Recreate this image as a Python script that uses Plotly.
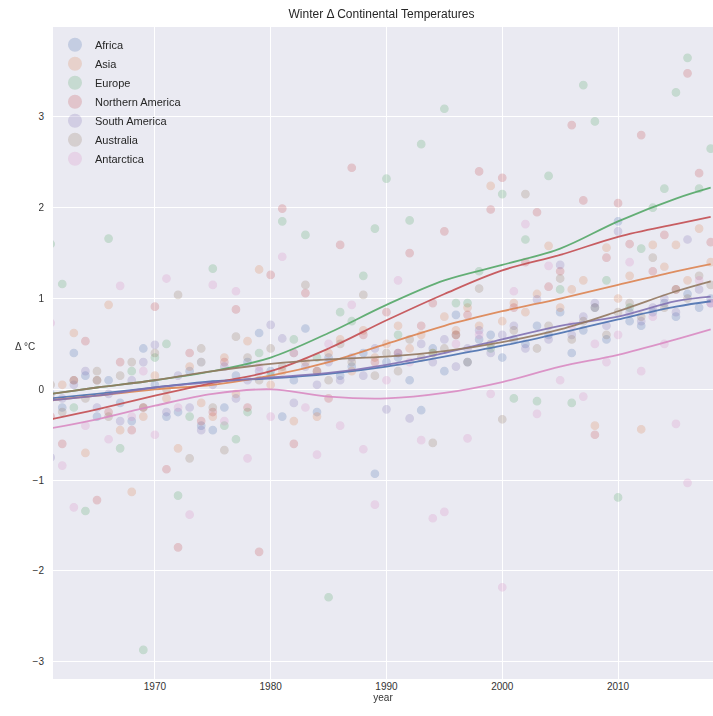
import plotly.graph_objects as go

years = list(range(1961, 2019))

africa = [-0.05, -0.20, 0.40, 0.15, -0.30, 0.10, -0.15, -0.35, 0.45, 0.05,
          -0.30, -0.25, 0.20, -0.40, -0.45, -0.20, 0.15, 0.30, 0.62, 0.20,
          -0.30, 0.10, 0.67, -0.25, 0.35, 0.15, 0.25, 0.40, -0.93, 0.30,
          0.35, 0.10, -0.23, 0.45, 0.20, 0.82, 0.30, 0.55, 0.60, 0.35,
          0.55, 0.50, 0.70, 0.60, 0.85, 0.40, 0.65, 0.90, 0.55, 1.85,
          0.75, 0.70, 0.85, 0.95, 0.80, 1.05, 0.90, 1.00]
asia = [-0.10, 0.05, 0.62, -0.70, 0.10, 0.93, -0.45, -1.13, -0.30, 0.15,
        -0.10, -0.65, 0.25, -0.15, -0.30, 0.35, -0.05, 0.53, 1.32, 0.05,
        0.20, -0.35, 0.30, -0.30, 0.40, 0.55, 0.20, 0.65, 0.35, 0.50,
        0.70, 0.45, 0.60, 0.40, 0.80, 0.65, 0.90, 0.70, 2.24, 0.75,
        0.95, 0.85, 1.05, 1.58, 0.90, 1.10, 1.20, -0.40, 1.56, 1.00,
        1.25, -0.44, 1.59, 1.35, 1.59, 1.20, 1.77, 1.40]
europe = [1.60, 1.16, -0.20, -1.34, 0.10, 1.66, -0.65, 0.20, -2.87, 0.35,
          0.50, -1.17, -0.30, 0.30, 1.33, -0.40, -0.55, -0.25, 0.40, 0.15,
          1.85, 0.55, 1.70, 0.35, -2.29, 0.85, 0.75, 1.25, 1.77, 2.32,
          0.60, 1.86, 2.70, 0.40, 3.09, 0.95, 0.95, 1.30, 0.45, 2.15,
          -0.10, 1.65, -0.13, 2.35, 1.10, -0.15, 3.35, 2.95, 1.20, -1.19,
          0.90, 1.55, 2.00, 2.21, 3.27, 3.65, 2.21, 2.65]
n_america = [-0.30, -0.60, 0.10, 0.53, -1.22, -0.25, 0.30, -0.45, -0.20, 0.91,
             -0.88, -1.74, 0.40, -0.35, -0.25, 0.30, 0.88, -0.20, -1.79, 1.26,
             1.99, -0.60, 1.06, 0.20, -0.10, 1.59, 2.44, 0.60, 0.30, 0.85,
             0.40, 1.50, 0.70, 0.95, 1.74, 0.60, 0.82, 2.40, 1.98, 2.33,
             0.90, 1.40, 1.95, 1.13, 1.30, 2.91, 2.08, -0.50, 1.45, 2.05,
             1.60, 2.80, 1.30, 1.70, 1.10, 3.48, 2.38, 1.62]
s_america = [-0.75, -0.10, 0.05, 0.20, -0.20, -0.05, -0.35, 0.10, 0.30, 0.49,
             -0.25, 0.15, -0.20, -0.45, 0.05, 0.25, -0.10, 0.10, 0.20, 0.71,
             0.56, -0.15, 0.25, 0.05, 0.30, 0.10, 0.35, 0.15, 0.45, -0.22,
             0.40, -0.32, 0.50, 0.30, 0.55, 0.25, 0.45, 0.65, 0.40, 0.60,
             0.70, 0.45, 0.99, 0.55, 1.37, 0.60, 0.80, 0.95, 0.70, 1.74,
             0.85, 0.75, 0.90, 1.00, 0.85, 1.65, 1.10, 0.95]
australia = [0.05, -0.25, 0.10, -0.10, 0.20, -0.30, 0.15, 0.30, -0.20, 0.40,
             0.00, 1.04, -0.76, 0.45, -0.20, -0.67, 0.58, 0.35, 0.10, 0.45,
             0.25, 0.40, 1.15, 0.20, 0.10, 0.50, 0.30, 1.04, 0.15, 0.40,
             0.20, 0.55, 0.35, -0.59, 0.45, 0.60, 0.30, 1.11, 0.50, -0.33,
             0.65, 2.15, 0.45, 0.70, 1.22, 0.55, 0.75, 0.90, 0.60, 0.85,
             0.95, 0.80, 1.45, 0.90, 1.10, 1.00, 1.25, 1.15]
antarctica = [0.73, -0.84, -1.30, -0.40, 0.10, -0.55, 1.14, -0.30, 0.20, -0.50,
              1.22, -0.20, -1.38, 0.30, 1.15, -0.35, 1.08, -0.76, 0.25, -0.30,
              1.46, 0.40, -0.20, -0.72, 0.50, -0.40, 0.93, -0.66, -1.27, 0.10,
              1.20, 0.30, -0.56, -1.42, -1.35, 0.50, -0.54, 0.60, -0.05, -2.18,
              1.08, 1.82, -0.27, 1.36, 0.10, 0.70, -0.08, 0.50, 0.30, 0.60,
              1.40, 0.20, 0.80, 0.50, -0.38, -1.03, 1.20, 0.95]

# smoothed trend (lowess)
trend_years = [1961, 1965, 1970, 1975, 1980, 1985, 1990, 1995, 2000, 2005, 2010, 2015, 2018]
trend_africa = [-0.10, -0.05, 0.02, 0.09, 0.12, 0.17, 0.25, 0.36, 0.48, 0.62, 0.77, 0.91, 0.97]
trend_asia = [-0.12, -0.07, 0.00, 0.05, 0.15, 0.30, 0.50, 0.70, 0.86, 1.00, 1.15, 1.30, 1.38]
trend_europe = [-0.05, 0.02, 0.10, 0.20, 0.35, 0.62, 0.93, 1.20, 1.37, 1.55, 1.85, 2.10, 2.22]
trend_n_america = [-0.33, -0.22, -0.07, 0.07, 0.20, 0.45, 0.76, 1.05, 1.31, 1.48, 1.68, 1.82, 1.90]
trend_s_america = [-0.12, -0.07, 0.02, 0.08, 0.13, 0.18, 0.27, 0.40, 0.55, 0.70, 0.80, 0.97, 1.02]
trend_australia = [-0.05, 0.02, 0.10, 0.20, 0.28, 0.33, 0.36, 0.42, 0.52, 0.66, 0.86, 1.08, 1.19]
trend_antarctica = [-0.43, -0.33, -0.18, -0.05, 0.00, -0.08, -0.10, -0.04, 0.08, 0.25, 0.38, 0.55, 0.66]

names = ["Africa", "Asia", "Europe", "Northern America", "South America", "Australia", "Antarctica"]
colors = ["#4C72B0", "#DD8452", "#55A868", "#C44E52", "#8172B3", "#937860", "#DA8BC3"]
series = [africa, asia, europe, n_america, s_america, australia, antarctica]
trends = [trend_africa, trend_asia, trend_europe, trend_n_america, trend_s_america,
          trend_australia, trend_antarctica]

fig = go.Figure()
for name, col, vals in zip(names, colors, series):
    fig.add_trace(go.Scatter(
        x=years, y=vals, mode="markers", name=name, opacity=0.24,
        marker=dict(size=7.5, color=col, line=dict(width=1.2, color=col)),
        cliponaxis=True,
    ))
for name, col, tr in zip(names, colors, trends):
    fig.add_trace(go.Scatter(
        x=trend_years, y=tr, mode="lines", name=name + " trend", showlegend=False,
        line=dict(color=col, width=1.8, shape="spline", smoothing=1.0), opacity=0.9,
    ))

fig.update_layout(
    width=713, height=716,
    margin=dict(l=53, r=0, t=27, b=37),
    paper_bgcolor="white", plot_bgcolor="#EAEAF2",
    font=dict(family="Liberation Sans, Arial, sans-serif", size=10, color="#333333"),
    title=dict(text="Winter Δ Continental Temperatures", x=0.535, xanchor="center",
               y=0.981, yanchor="middle", font=dict(size=12, color="#262626")),
    legend=dict(x=0.003, y=0.995, xanchor="left", yanchor="top", bgcolor="rgba(0,0,0,0)",
                font=dict(size=11, color="#262626"), tracegroupgap=0, itemsizing="constant"),
    showlegend=True,
)
fig.update_xaxes(range=[1961.2, 2018.2], tickvals=[1970, 1980, 1990, 2000, 2010],
                 showgrid=True, gridcolor="white", gridwidth=1, zeroline=False,
                 ticks="", showline=False, title=dict(text="year", standoff=2,
                 font=dict(size=10, color="#333333")))
fig.update_yaxes(range=[-3.19, 3.99], tickvals=[-3, -2, -1, 0, 1, 2, 3],
                 showgrid=True, gridcolor="white", gridwidth=1, zeroline=False,
                 ticks="", showline=False, ticklabelstandoff=8)
fig.add_annotation(text="Δ °C", xref="paper", yref="paper", x=-0.042, y=0.51,
                   showarrow=False, font=dict(size=10, color="#333333"), xanchor="center")

fig.write_html("out.html", config={"displayModeBar": False},
               post_script="document.body.style.margin='0px';document.body.style.overflow='hidden';")
